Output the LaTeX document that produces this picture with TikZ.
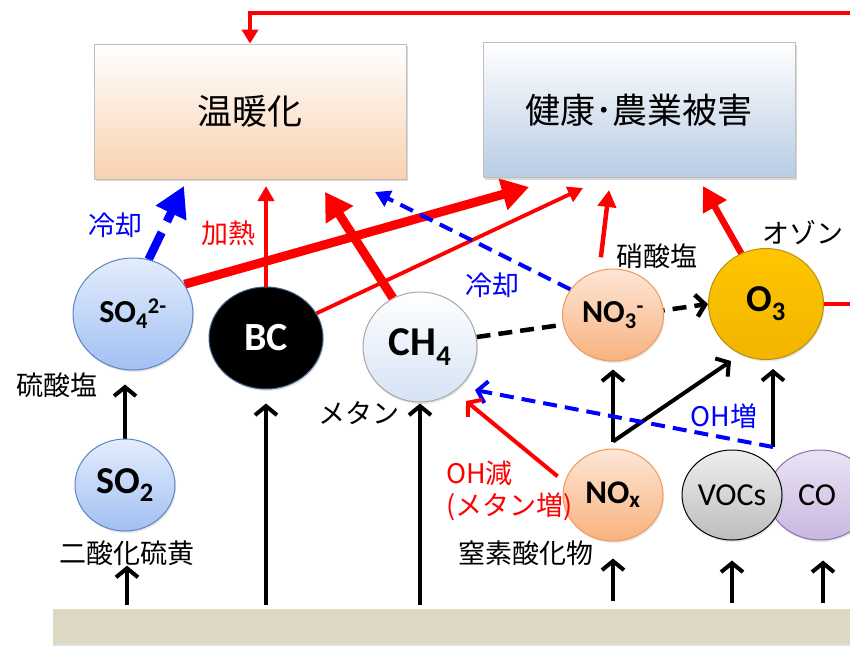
\documentclass[tikz,border=0pt]{standalone}
\usepackage{fontspec}
\setmainfont{Noto Sans CJK JP}
\newfontfamily\calib{Carlito}
\usetikzlibrary{arrows.meta,shapes.geometric,shadows}
\definecolor{rd}{HTML}{FF0000}
\definecolor{bl}{HTML}{0000FF}
\definecolor{peach}{HTML}{F9D2B0}
\definecolor{skyb}{HTML}{B8CCE4}
\definecolor{sotop}{HTML}{E3EDFC}
\definecolor{sobot}{HTML}{A2C0F3}
\definecolor{sobd}{HTML}{5B85C0}
\definecolor{ortop}{HTML}{FDE6D6}
\definecolor{orbot}{HTML}{F8B27E}
\definecolor{orbd}{HTML}{EE9A55}
\definecolor{gold}{HTML}{FFC600}
\definecolor{goldb}{HTML}{F2B400}
\definecolor{goldbd}{HTML}{B8900A}
\definecolor{chbot}{HTML}{D5E3F4}
\definecolor{grtop}{HTML}{EEEEEE}
\definecolor{grbot}{HTML}{BDBDBD}
\definecolor{lvtop}{HTML}{EAE3F4}
\definecolor{lvbot}{HTML}{C9B7E1}
\definecolor{lvbd}{HTML}{8C72B0}
\definecolor{ground}{HTML}{DDD8C3}
\pgfdeclarelayer{bg}
\pgfsetlayers{bg,main}
\tikzset{
  bigbox/.style={rectangle, draw=black!25, line width=0.8pt, minimum width=312pt, minimum height=135pt,
    font=\fontsize{35}{40}\selectfont, drop shadow={shadow xshift=1.5pt, shadow yshift=-2pt, opacity=0.3}},
  ell/.style={ellipse, inner sep=0pt, line width=1pt, font=\calib\bfseries\fontsize{32}{36}\selectfont,
    drop shadow={shadow xshift=1pt, shadow yshift=-2pt, opacity=0.2}},
  lbl/.style={font=\fontsize{27}{32}\selectfont, inner sep=0pt},
  rthick/.style={draw=rd, line width=9pt, -{Triangle[length=27pt,width=31pt]}},
  rmed/.style={draw=rd, line width=6.5pt, -{Triangle[length=24pt,width=26pt]}},
  rthin/.style={draw=rd, line width=3.8pt, -{Triangle[length=15pt,width=16pt]}},
  rline/.style={draw=rd, line width=4.5pt},
  bthick/.style={draw=bl, line width=8.5pt, dash pattern=on 30pt off 12pt, -{Triangle[length=30pt,width=32pt]}},
  bdash/.style={draw=bl, line width=4pt, dash pattern=on 14pt off 8pt},
  blk/.style={draw=black, line width=4pt, -{Straight Barb[length=9pt,width=22pt]}},
  kdash/.style={draw=black, line width=4.5pt, dash pattern=on 14pt off 8pt, -{Straight Barb[length=9pt,width=22pt]}}
}
\begin{document}
\begin{tikzpicture}[x=1pt,y=-1pt]
\useasboundingbox (0,0) rectangle (850,646);

% ground
\node[rectangle, fill=ground, minimum width=810pt, minimum height=35pt, inner sep=0pt,
  drop shadow={shadow xshift=0pt, shadow yshift=-2pt, opacity=0.25}] (gnd) at (458,626.5) {};

% boxes
\node[bigbox, top color=white, bottom color=peach] (w) at (250,111.5) {温暖化};
\node[bigbox, top color=white, bottom color=skyb] (h) at (639,110) {健康･農業被害};

% circles
\node[ell, draw=sobd, top color=sotop, bottom color=sobot, minimum width=120pt, minimum height=112pt,
  font=\calib\bfseries\fontsize{32}{36}\selectfont] (so4) at (133,314) {SO\textsubscript{4}\textsuperscript{2-}};
\node[ell, draw=sobd, top color=sotop, bottom color=sobot, minimum width=100pt, minimum height=92pt,
  font=\calib\bfseries\fontsize{38}{42}\selectfont] (so2) at (125,485) {SO\textsubscript{2}};
\node[ell, draw=sobd!70!black, fill=black, text=white, minimum width=114pt, minimum height=102pt,
  font=\calib\bfseries\fontsize{40}{44}\selectfont] (bc) at (266,338) {BC};
\node[ell, draw=black!35, top color=white, bottom color=chbot, minimum width=114pt, minimum height=110pt,
  font=\calib\bfseries\fontsize{41}{45}\selectfont] (ch4) at (420,347) {CH\textsubscript{4}};
\node[ell, draw=orbd, top color=ortop, bottom color=orbot, minimum width=101pt, minimum height=92pt,
  font=\calib\bfseries\fontsize{32}{36}\selectfont] (no3) at (613,315) {NO\textsubscript{3}\textsuperscript{-}};
\node[ell, draw=goldbd, top color=gold, bottom color=goldb, minimum width=115pt, minimum height=111pt,
  font=\calib\bfseries\fontsize{38}{42}\selectfont] (o3) at (766,304) {O\textsubscript{3}};
\node[ell, draw=orbd, top color=ortop, bottom color=orbot, minimum width=100pt, minimum height=92pt,
  font=\calib\bfseries\fontsize{33}{37}\selectfont] (nox) at (613,495) {NO\textsubscript{x}};
\node[ell, draw=lvbd, top color=lvtop, bottom color=lvbot, minimum width=104pt, minimum height=90pt,
  font=\calib\fontsize{32}{36}\selectfont] (co) at (820,495) {\hspace*{-6pt}CO};
\node[ell, draw=black, top color=grtop, bottom color=grbot, minimum width=100pt, minimum height=90pt,
  font=\calib\fontsize{32}{36}\selectfont] (vocs) at (732,495) {VOCs};

% labels
\node[lbl] (lsulf) at (57,385) {硫酸塩};
\node[lbl] (lso2) at (127,553) {二酸化硫黄};
\node[lbl] (lmeth) at (359,413) {メタン};
\node[lbl] (lnox) at (526,553) {窒素酸化物};
\node[lbl] (lno3) at (657,256) {硝酸塩};
\node[lbl] (lo3) at (803,233) {オゾン};
\node[lbl, text=bl] (lc1) at (115,225) {冷却};
\node[lbl, text=rd] (lh) at (228,233) {加熱};
\node[lbl, text=bl] (lc2) at (492,285) {冷却};
\node[lbl, text=bl] (loh) at (724,416) {OH増};
\node[lbl, text=rd, align=left, anchor=west] (lohm) at (446,491) {OH減\\(メタン増)};

% coordinates
\coordinate (t1) at (184,186);
\coordinate (t2) at (266,186);
\coordinate (t3) at (325,192);
\coordinate (t4) at (375,192);
\coordinate (t5) at (529,187);
\coordinate (t6) at (583,188);
\coordinate (t7) at (609,190);
\coordinate (t8) at (703,186);
\coordinate (t9) at (731,361);
\coordinate (t11) at (475,390);
\coordinate (t12) at (466,401);
\coordinate (j1) at ([yshift=7pt]nox.north);
\coordinate (j2) at (773,447);
\coordinate (rc) at (885,13);

\begin{pgfonlayer}{bg}
% red arrows to boxes
\draw[rthin] (bc.north) -- (t2);
\draw[rthin] (bc.26) -- (t6);
\draw[rthick] (so4.30) -- (t5);
\draw[rthick] (ch4.119) -- (t3);
\draw[rthin, line width=4.5pt, -{Triangle[length=17pt,width=18pt]}, shorten <=13pt] (no3.107) -- (t7);
\draw[rmed] (o3.116) -- (t8);
% blue arrows
\draw[bthick] (so4.74) -- (t1);
\draw[bdash, -{Triangle[length=15pt,width=17pt]}] (no3.149) -- (t4);
% top feedback line
\draw[rline, -{Triangle[length=14pt,width=16pt]}] (o3.east) -| (rc) -| (w.north);
% black paths
\draw[kdash] (ch4.10) -- (o3.west);
\draw[blk, shorten >=8pt] (j1) -- (no3.south);
\draw[blk] (j1) -- (t9);
\draw[blk, shorten >=9pt] (j2) -- (j2 |- o3.south);
\draw[bdash, -{Straight Barb[length=9pt,width=22pt]}] (j2) -- (t11);
\draw[draw=rd, line width=4pt, -{Straight Barb[length=9pt,width=22pt]}, shorten <=9pt] (nox.165) -- (t12);
% vertical arrows from ground and between
\draw[blk, shorten >=14pt] (so2.north) -- (so2.north |- so4.south);
\draw[blk, shorten <=4pt] (gnd.north -| lso2.south) -- (lso2.south);
\draw[blk, shorten <=4pt, shorten >=14pt] (gnd.north -| bc.south) -- (bc.south);
\draw[blk, shorten <=4pt, shorten >=1pt] (gnd.north -| ch4.south) -- (ch4.south);
\draw[blk, shorten <=8pt, shorten >=17pt] (gnd.north -| nox.south) -- (nox.south);
\draw[blk, shorten <=6pt, shorten >=20pt] (gnd.north -| vocs.south) -- (vocs.south);
\draw[blk, shorten <=6pt, shorten >=20pt] ([xshift=3pt]gnd.north -| co.south) -- ([xshift=3pt]co.south);
\end{pgfonlayer}
\end{tikzpicture}
\end{document}
